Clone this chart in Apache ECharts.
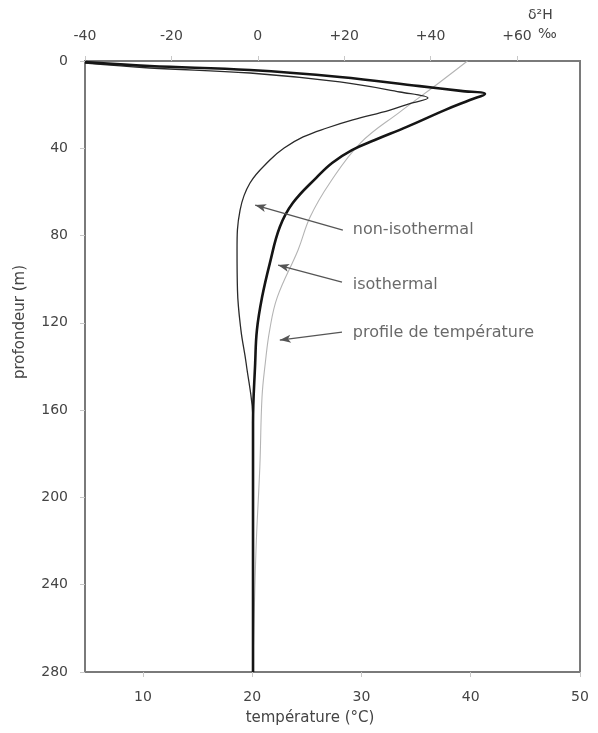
<!DOCTYPE html>
<html>
<head>
<meta charset="utf-8">
<script src="https://cdn.jsdelivr.net/npm/echarts@6/dist/echarts.min.js"></script>
<style>
  html, body { margin: 0; padding: 0; background: #fff; }
  #chart { width: 598px; height: 733px; }
</style>
</head>
<body>
<div id="chart"></div>
<script>
// profil isotherme (trait épais), δ2H en ‰ vs profondeur (m)
const isoDepth = [0.5, 2.3, 4.1, 7.3, 11.5, 13.7, 15.1, 17.9, 22.5, 30.2, 36.2, 40.8, 46.7, 53.2, 65.1, 76.1, 92.6, 108.2, 123.3, 138.4, 166, 280];
const isoD2H = [-40, -25, -1.8, 19, 37.5, 47, 52.6, 49.1, 43.3, 34.5, 27.1, 21.8, 17.2, 13.7, 8.1, 5.1, 2.8, 1.0, -0.2, -0.6, -1.1, -1.1];

// profil non isotherme (trait fin)
const nonDepth = [1, 3.2, 5.5, 9.6, 14.2, 17, 19.5, 22.5, 27, 30.7, 34.8, 39.9, 45.4, 55.9, 68.3, 86.6, 105, 123.3, 138.4, 166, 280];
const nonD2H = [-40, -25, -1.8, 19, 32.9, 39.4, 35.2, 30.6, 22, 16, 10.5, 6.1, 2.8, -1.8, -4.1, -4.8, -4.7, -3.9, -2.7, -1.1, -1.1];

// profil de température (gris), °C
const tempDepth = [0, 9.6, 23.4, 37.6, 55.9, 71.5, 86.6, 108.2, 123.3, 138.4, 154, 186, 224, 280];
const tempC = [39.7, 37.2, 33.5, 29.9, 27.1, 25.3, 24.2, 22.3, 21.6, 21.2, 20.9, 20.7, 20.35, 20.07];

// ticks
const tempTicks = [10, 20, 30, 40, 50];
const d2hTicks = [-40, -20, 0, 20, 40, 60];

// annotations (texte + flèches) en coordonnées δ2H / profondeur
const annoText = ["non-isothermal", "isothermal", "profile de température"];
const annoD2H = [22, 22, 22];
const annoDepth = [77.5, 102.7, 124.7];
const arrowFrom = [[19.7, 77.5], [19.5, 101.3], [19.5, 124.2]];
const arrowTo = [[-0.6, 66], [4.7, 93.5], [5.1, 127.9]];

const font = "DejaVu Sans";
const txt = "#444";

const zip = (xs, ys) => xs.map((x, i) => [x, ys[i]]);

const chart = echarts.init(document.getElementById("chart"));
chart.setOption({
  animation: false,
  textStyle: { fontFamily: font },
  grid: {
    left: 85, right: 18, top: 61, bottom: 61,
    show: true, borderColor: "#7a7a7a", borderWidth: 2, backgroundColor: "#fff"
  },
  xAxis: [
    {
      type: "value", position: "bottom", min: 4.7, max: 50,
      axisLine: { show: false, onZero: false },
      splitLine: { show: false },
      axisTick: { show: true, length: 5, lineStyle: { color: "#c8c8c8" }, customValues: tempTicks },
      axisLabel: { color: txt, fontSize: 14, margin: 18, customValues: tempTicks },
      name: "température (°C)", nameLocation: "middle", nameGap: 39,
      nameTextStyle: { color: txt, fontSize: 15, padding: [0, 45, 0, 0] }
    },
    {
      type: "value", position: "top", min: -40, max: 74.6,
      axisLine: { show: false, onZero: false },
      splitLine: { show: false },
      axisTick: { show: true, length: 5, lineStyle: { color: "#c8c8c8" }, customValues: d2hTicks },
      axisLabel: {
        color: txt, fontSize: 14, margin: 18, customValues: d2hTicks,
        formatter: v => (v > 0 ? "+" + v : String(v))
      }
    }
  ],
  yAxis: {
    type: "value", inverse: true, min: 0, max: 280, interval: 40,
    axisLine: { show: false, onZero: false },
    splitLine: { show: false },
    axisTick: { show: true, length: 5, lineStyle: { color: "#c8c8c8" } },
    axisLabel: { color: txt, fontSize: 14, margin: 17 }
  },
  graphic: [
    { type: "text", left: 538, top: 27, style: { text: "‰", fill: txt, font: "14px " + font } },
    { type: "text", left: 528, top: 8, style: { text: "δ²H", fill: txt, font: "14px " + font } },
    {
      type: "text", x: 20, y: 322, rotation: Math.PI / 2,
      style: { text: "profondeur (m)", fill: txt, font: "15px " + font, align: "center", verticalAlign: "middle" }
    }
  ],
  series: [
    {
      name: "température", type: "line", xAxisIndex: 0, yAxisIndex: 0,
      data: zip(tempC, tempDepth), smooth: 0.4, showSymbol: false,
      lineStyle: { color: "#b4b4b4", width: 1.1 }, z: 1
    },
    {
      name: "non-isothermal", type: "line", xAxisIndex: 1, yAxisIndex: 0,
      data: zip(nonD2H, nonDepth), smooth: 0.4, showSymbol: false,
      lineStyle: { color: "#2a2a2a", width: 1.3 }, z: 2
    },
    {
      name: "isothermal", type: "line", xAxisIndex: 1, yAxisIndex: 0,
      data: zip(isoD2H, isoDepth), smooth: 0.4, showSymbol: false,
      lineStyle: { color: "#151515", width: 2.6 }, z: 3
    },
    {
      name: "annotations", type: "scatter", xAxisIndex: 1, yAxisIndex: 0,
      data: annoText.map((t, i) => ({ value: [annoD2H[i], annoDepth[i]], name: t })),
      symbolSize: 0, silent: true,
      label: {
        show: true, position: "right", distance: 0, formatter: p => p.name,
        color: txt, fontSize: 16, fontFamily: font
      },
      markLine: {
        silent: true, animation: false,
        symbol: ["none", "arrow"], symbolSize: [6, 11],
        lineStyle: { color: "#555", width: 1.3, type: "solid" },
        label: { show: false },
        data: arrowFrom.map((f, i) => [{ coord: f }, { coord: arrowTo[i] }])
      }
    }
  ]
});
</script>
</body>
</html>
